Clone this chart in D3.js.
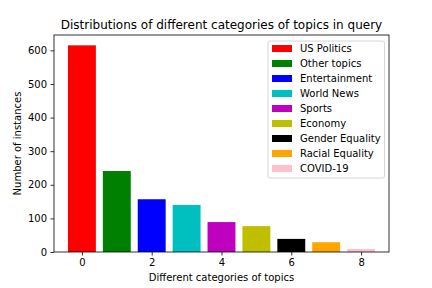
<!DOCTYPE html>
<html>
<head>
<meta charset="utf-8">
<script src="https://cdn.jsdelivr.net/npm/d3@7"></script>
<style>
  html, body { margin: 0; padding: 0; background: #fff; }
  text { font-family: "DejaVu Sans", sans-serif; fill: #000; }
</style>
</head>
<body>
<div id="chart"></div>
<script>
(function () {
  'use strict';

  // Data
  const categories = ['US Politics', 'Other topics', 'Entertainment', 'World News', 'Sports',
                      'Economy', 'Gender Equality', 'Racial Equality', 'COVID-19'];
  const counts = [615, 241, 157, 140, 89, 77, 39, 29, 9];
  const colors = ['#ff0000', '#008000', '#0000ff', '#00bfbf', '#bf00bf',
                  '#bfbf00', '#000000', '#ffa500', '#ffc0cb'];
  const xTicks = [0, 2, 4, 6, 8];
  const yTicks = [0, 100, 200, 300, 400, 500, 600];

  const W = 432, H = 288;
  const margin = { top: 35, right: 43, bottom: 36, left: 54 };
  const w = W - margin.left - margin.right;
  const h = H - margin.top - margin.bottom;

  const svg = d3.select('#chart').append('svg')
    .attr('width', W).attr('height', H);

  const g = svg.append('g').attr('transform', `translate(${margin.left},${margin.top})`);

  const x = d3.scaleLinear().domain([-0.8, categories.length - 0.2]).range([0, w]);
  const y = d3.scaleLinear().domain([0, d3.max(counts) * 1.05]).range([h, 0]);

  // Bars
  g.selectAll('rect.bar').data(counts).enter().append('rect')
    .attr('class', 'bar')
    .attr('x', (d, i) => x(i - 0.4))
    .attr('width', (d, i) => x(i + 0.4) - x(i - 0.4))
    .attr('y', d => y(d))
    .attr('height', d => y(0) - y(d))
    .attr('fill', (d, i) => colors[i]);

  // Axes
  const xAxis = g.append('g').attr('transform', `translate(0,${h})`)
    .call(d3.axisBottom(x).tickValues(xTicks).tickSize(3.5).tickPadding(3.5).tickFormat(d3.format('d')));
  const yAxis = g.append('g')
    .call(d3.axisLeft(y).tickValues(yTicks).tickSize(3.5).tickPadding(3.5).tickFormat(d3.format('d')));
  [xAxis, yAxis].forEach(a => {
    a.select('.domain').remove();
    a.selectAll('line').attr('stroke', '#000').attr('stroke-width', 0.8);
    a.selectAll('text').attr('font-size', 10).attr('fill', '#000');
  });

  // Frame
  g.append('rect').attr('x', 0).attr('y', 0).attr('width', w).attr('height', h)
    .attr('fill', 'none').attr('stroke', '#000').attr('stroke-width', 0.8);

  // Title and labels
  svg.append('text')
    .attr('x', margin.left + w / 2).attr('y', 29)
    .attr('text-anchor', 'middle').attr('font-size', 12)
    .text('Distributions of different categories of topics in query');

  svg.append('text')
    .attr('x', margin.left + w / 2).attr('y', 281)
    .attr('text-anchor', 'middle').attr('font-size', 10)
    .text('Different categories of topics');

  svg.append('text')
    .attr('transform', `translate(21,${margin.top + h / 2}) rotate(-90)`)
    .attr('text-anchor', 'middle').attr('font-size', 10)
    .text('Number of instances');

  // Legend
  const lg = g.append('g').attr('transform', `translate(${w - 121},6)`);
  lg.append('rect').attr('x', 0).attr('y', 0).attr('width', 116.5).attr('height', 137)
    .attr('rx', 2).attr('fill', 'rgba(255,255,255,0.8)')
    .attr('stroke', '#cccccc').attr('stroke-width', 0.8);
  const items = lg.selectAll('g.item').data(categories).enter().append('g')
    .attr('class', 'item')
    .attr('transform', (d, i) => `translate(4,${7.5 + i * 15})`);
  items.append('rect').attr('x', 0).attr('y', -3.5).attr('width', 20).attr('height', 7)
    .attr('fill', (d, i) => colors[i]);
  items.append('text').attr('x', 28).attr('y', 3.6)
    .attr('font-size', 10).text(d => d);
})();
</script>
</body>
</html>
